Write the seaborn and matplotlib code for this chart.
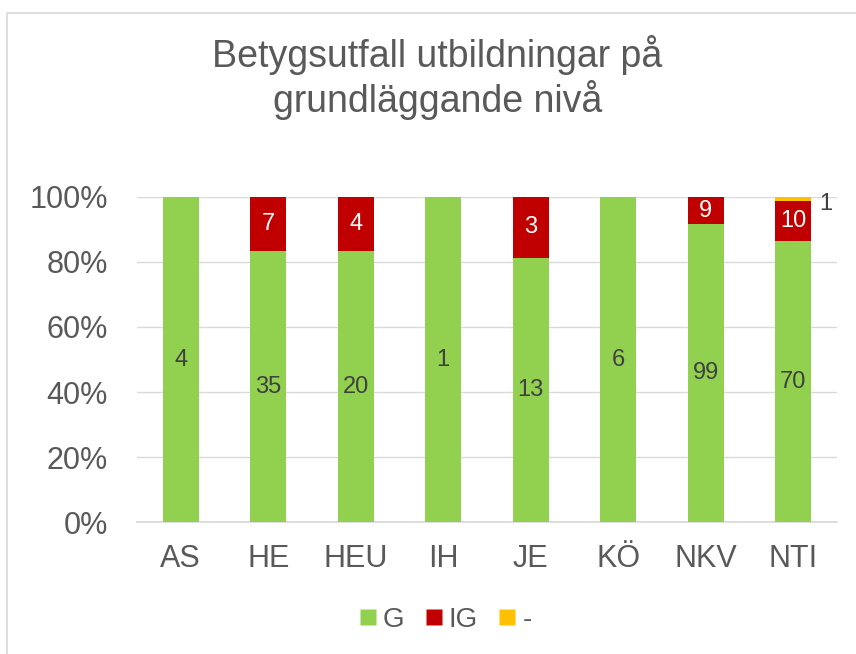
import numpy as np
import pandas as pd
import matplotlib.pyplot as plt
import seaborn as sns
from matplotlib.patches import Rectangle
from matplotlib.lines import Line2D

# Data
categories = ["AS", "HE", "HEU", "IH", "JE", "KÖ", "NKV", "NTI"]
g_counts = [4, 35, 20, 1, 13, 6, 99, 70]
ig_counts = [0, 7, 4, 0, 3, 0, 9, 10]
dash_counts = [0, 0, 0, 0, 0, 0, 0, 1]

title = "Betygsutfall utbildningar på\ngrundläggande nivå"
series_names = ["G", "IG", "-"]
colors = {"G": "#92D050", "IG": "#C00000", "-": "#FFC000"}
text_col = "#595959"

sns.set_theme(style="white")
plt.rcParams["font.family"] = ["Liberation Sans", "DejaVu Sans"]

df = pd.DataFrame({"cat": categories, "G": g_counts, "IG": ig_counts, "-": dash_counts})
total = df[["G", "IG", "-"]].sum(axis=1)
df["pG"] = df["G"] / total * 100
df["pIG"] = df["IG"] / total * 100
df["pD"] = df["-"] / total * 100
df["top_G"] = df["pG"]
df["top_IG"] = df["pG"] + df["pIG"]
df["top_D"] = df["top_IG"] + df["pD"]

fig = plt.figure(figsize=(8.56, 6.54), dpi=100)
ax = fig.add_axes([0.160, 0.2018, 0.818, 0.497])

# stacked by overlaying cumulative heights
w = 0.41
sns.barplot(data=df, x="cat", y="top_D", color=colors["-"], saturation=1, width=w, ax=ax, zorder=2)
sns.barplot(data=df, x="cat", y="top_IG", color=colors["IG"], saturation=1, width=w, ax=ax, zorder=3)
sns.barplot(data=df, x="cat", y="top_G", color=colors["G"], saturation=1, width=w, ax=ax, zorder=4)
for p in ax.patches:
    p.set_edgecolor("none")

# data labels
for i, row in df.iterrows():
    if row["G"] > 0:
        ax.text(i, row["pG"] / 2, f"{row['G']}", ha="center", va="center",
                fontsize=17, color="#404040", zorder=5)
    if row["IG"] > 0:
        ax.text(i, row["pG"] + row["pIG"] / 2, f"{row['IG']}", ha="center", va="center",
                fontsize=17, color="white", zorder=5)
    if row["-"] > 0:
        ax.text(i + 0.3, row["top_D"] - 2.2, f"{row['-']}", ha="left",
                va="center", fontsize=17, color="#404040", zorder=5)

ax.set_ylim(0, 100)
ax.set_xlim(-0.5, len(categories) - 0.5)
ax.set_yticks(range(0, 101, 20))
ax.set_yticklabels([f"{v}%" for v in range(0, 101, 20)])
ax.yaxis.grid(True, color="#D9D9D9", linewidth=1, zorder=0)
ax.set_axisbelow(True)
for s in ["top", "right", "left"]:
    ax.spines[s].set_visible(False)
ax.spines["bottom"].set_color("#D9D9D9")
ax.tick_params(axis="both", labelsize=22, colors=text_col, length=0)
ax.tick_params(axis="y", pad=21)
ax.tick_params(axis="x", pad=16)
ax.set_xlabel("")
ax.set_ylabel("")

fig.text(0.511, 0.881, title, ha="center", va="center", fontsize=27,
         color=text_col, linespacing=1.15)

handles = [Line2D([], [], marker="s", linestyle="none", markersize=12,
                  markerfacecolor=colors[n], markeredgecolor="none") for n in series_names]
leg = fig.legend(handles, series_names, loc="center", bbox_to_anchor=(0.518, 0.052),
                 ncol=3, frameon=False, fontsize=20, handletextpad=0.1,
                 columnspacing=0.6, handlelength=0.9)
for t in leg.get_texts():
    t.set_color(text_col)

# chart border
fig.patches.append(Rectangle((7 / 856, -0.05), 1.0, 1 - 13 / 654 + 0.05,
                             transform=fig.transFigure, fill=False,
                             edgecolor="#D9D9D9", linewidth=1.2))

fig.savefig("out.png", dpi=100)
